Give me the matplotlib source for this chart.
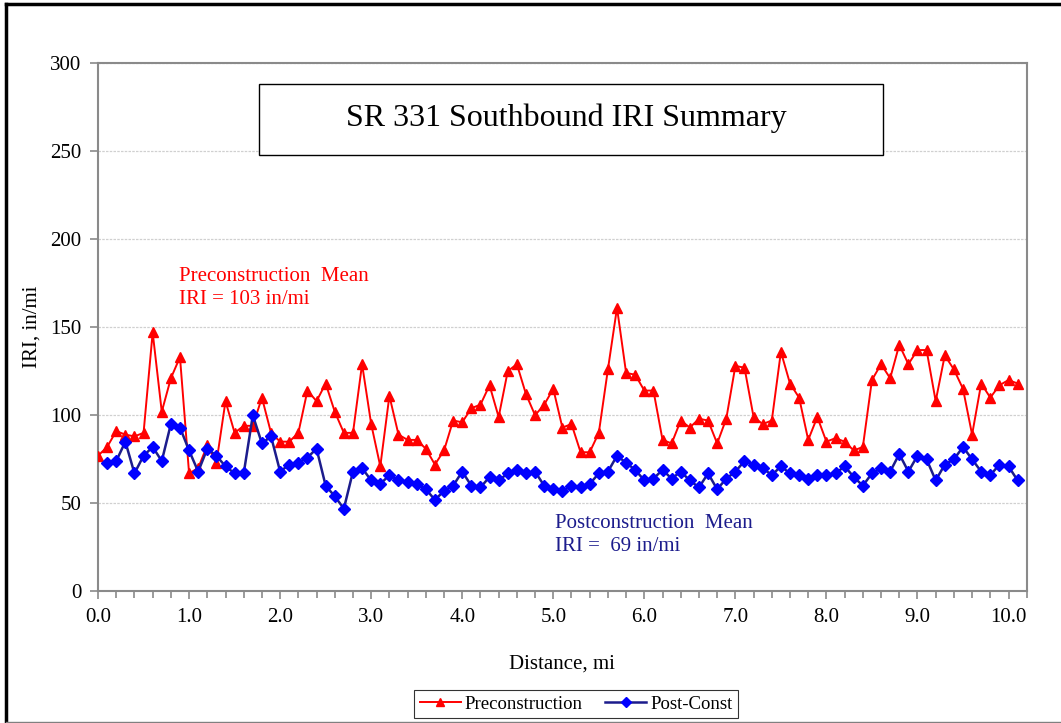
import numpy as np
import matplotlib
matplotlib.use('Agg')
import matplotlib.pyplot as plt
from matplotlib.lines import Line2D
from matplotlib.patches import Rectangle
from matplotlib.ticker import MultipleLocator

plt.rcParams['font.family'] = 'Liberation Serif'

# distance along route, mi
dist_pre = np.round(np.arange(0, 102) * 0.1, 1)
dist_post = dist_pre[1:]

iri_pre = [77, 82, 91, 89, 88, 90, 147, 102, 121, 133,
           67, 70, 83, 73, 108, 90, 94, 94, 110, 90,
           85, 85, 90, 114, 108, 118, 102, 90, 90, 129,
           95, 71, 111, 89, 86, 86, 81, 72, 80, 97,
           96, 104, 106, 117, 99, 125, 129, 112, 100, 106,
           115, 93, 95, 79, 79, 90, 126, 161, 124, 123,
           114, 114, 86, 84, 97, 93, 98, 97, 84, 98,
           128, 127, 99, 95, 97, 136, 118, 110, 86, 99,
           85, 87, 85, 80, 82, 120, 129, 121, 140, 129,
           137, 137, 108, 134, 126, 115, 89, 118, 110, 117,
           120, 118]

iri_post = [73, 74, 85, 67, 77, 82, 74, 95, 93,
            80, 68, 81, 77, 71, 67, 67, 100, 84, 88,
            68, 72, 73, 76, 81, 60, 54, 47, 68, 70,
            63, 61, 66, 63, 62, 61, 58, 52, 57, 60,
            68, 60, 59, 65, 63, 67, 69, 67, 68, 60,
            58, 57, 60, 59, 61, 67, 68, 77, 73, 69,
            63, 64, 69, 64, 68, 63, 59, 67, 58, 64,
            68, 74, 72, 70, 66, 71, 67, 66, 64, 66,
            66, 67, 71, 65, 60, 67, 70, 68, 78, 68,
            77, 75, 63, 72, 75, 82, 75, 68, 66, 72,
            71, 63]

fig = plt.figure(figsize=(10.61, 7.23), dpi=100)
ax = fig.add_axes([0.0924, 0.182, 0.8753, 0.731])

ax.plot(dist_pre, iri_pre, color='red', lw=1.4, marker='^', ms=7,
        label='Preconstruction', zorder=3)
ax.plot(dist_post, iri_post, color='#1c1c8c', lw=1.8, marker='D', ms=5.8,
        mfc='blue', mec='blue', label='Post-Const', zorder=4)

ax.set_xlim(0, 10.2)
ax.set_ylim(0, 300)
ax.xaxis.set_major_locator(MultipleLocator(1.0))
ax.xaxis.set_minor_locator(MultipleLocator(0.2))
ax.yaxis.set_major_locator(MultipleLocator(50))
ax.xaxis.set_major_formatter(plt.FormatStrFormatter('%.1f'))
ax.grid(axis='y', color='#d0d0d0', ls=(0, (2, 1)), lw=0.9)
ax.set_axisbelow(True)
for s in ax.spines.values():
    s.set_color('#8a8a8a')
    s.set_linewidth(1.5)
ax.tick_params(axis='both', which='both', direction='out', color='#8a8a8a',
               labelsize=15, width=1.2)
ax.tick_params(axis='both', which='major', length=6, pad=6)
ax.tick_params(axis='x', which='minor', length=5)
ax.set_xlabel('Distance, mi', fontsize=15, labelpad=20)
ax.set_ylabel('IRI, in/mi', fontsize=15, labelpad=6)

ax.text(0.89, 172, 'Preconstruction  Mean\nIRI = 103 in/mi', color='red',
        fontsize=15, va='center', ha='left', linespacing=1.3)
ax.text(5.02, 32, 'Postconstruction  Mean\nIRI =  69 in/mi', color='#1c1c8c',
        fontsize=15, va='center', ha='left', linespacing=1.3)

# title box
fig.patches.append(Rectangle((259 / 1061, 1 - 155 / 723), 624 / 1061, 71 / 723,
                             transform=fig.transFigure, fill=True, fc='white',
                             ec='black', lw=1.0, zorder=5))
fig.text(566 / 1061, 1 - 118 / 723, 'SR 331 Southbound IRI Summary',
         fontsize=23, ha='center', va='center', zorder=6)

leg = fig.legend(loc='center', bbox_to_anchor=(576 / 1061, 1 - 704 / 723),
                 ncol=2, fontsize=13.5, frameon=True, fancybox=False,
                 edgecolor='black', handlelength=2.2, handletextpad=0.2,
                 columnspacing=1.2, borderpad=0.3, markerscale=0.8)
leg.get_frame().set_linewidth(0.8)

# chart border
fig.add_artist(Line2D([6 / 1061, 6 / 1061], [0.003, 1 - 4 / 723], color='black',
                      lw=2.5, transform=fig.transFigure))
fig.add_artist(Line2D([6 / 1061, 1.0], [1 - 4 / 723, 1 - 4 / 723], color='black',
                      lw=2.5, transform=fig.transFigure))
fig.add_artist(Line2D([6 / 1061, 1.0], [0.002, 0.002], color='#808080',
                      lw=1.0, transform=fig.transFigure))

fig.savefig('out.png', dpi=100)
